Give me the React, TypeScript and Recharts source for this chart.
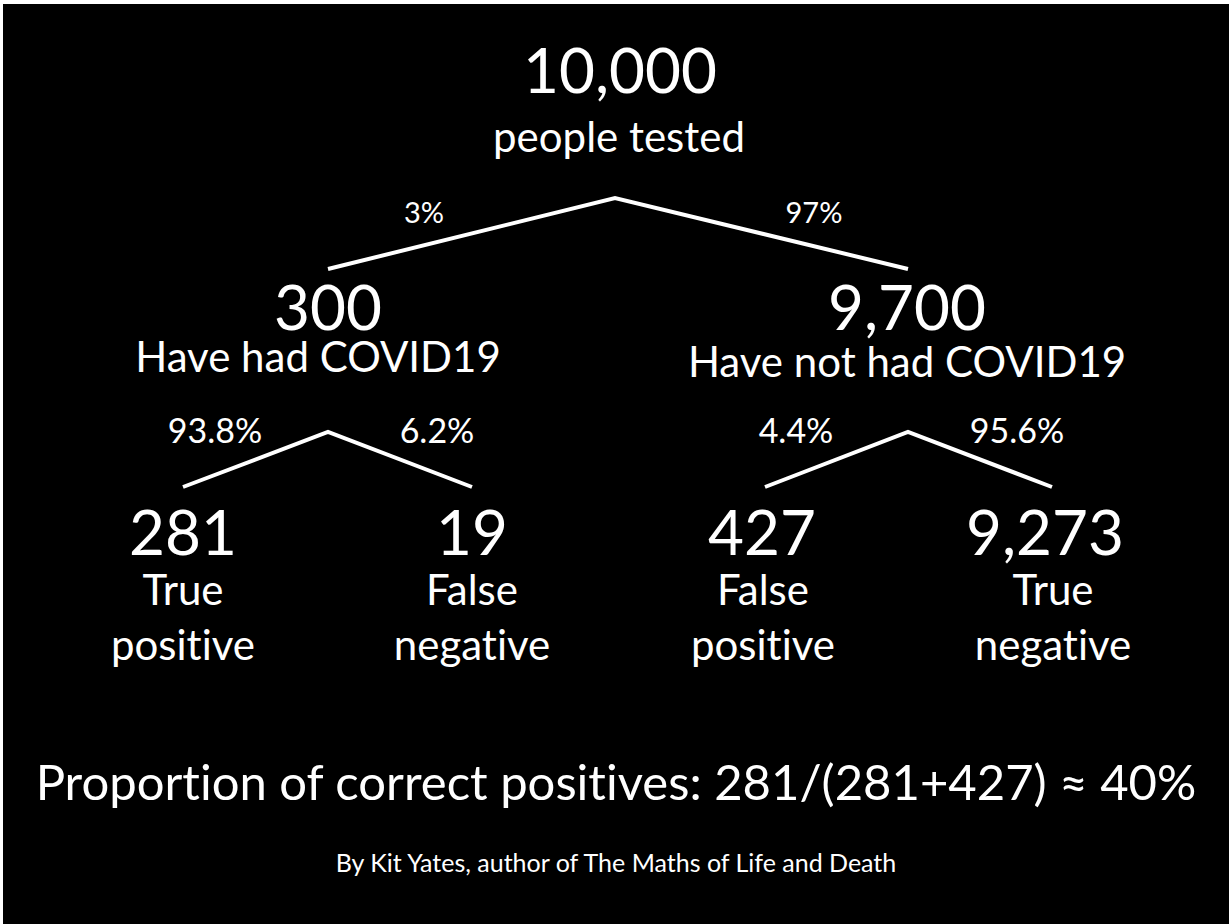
import React from "react";
import { ScatterChart, Scatter, XAxis, YAxis } from "recharts";

// tree nodes: people count at each node
const nodeValues = [10000, 300, 9700, 281, 19, 427, 9273];
const nodeNames = [
  ["people tested"],
  ["Have had COVID19"],
  ["Have not had COVID19"],
  ["True", "positive"],
  ["False", "negative"],
  ["False", "positive"],
  ["True", "negative"],
];
const nodeX = [620, 328, 907, 183, 472, 762, 1045];
const nodeY = [93, 330, 330, 555, 555, 555, 555];
const nameX = [619, 318, 907, 183, 472, 763, 1053];
const nameY = [152, 372, 377, 605, 605, 605, 605];

// branch percentages (first two from the root, rest from the second level)
const branchPct = [3, 97, 93.8, 6.2, 4.4, 95.6];
const pctX = [424, 814, 215, 437, 796, 1017];
const pctY = [223, 223, 443, 443, 443, 443];

// forks: left child end, parent apex, right child end
const forkX = [[328, 615, 908], [183, 328, 472], [765, 908, 1052]];
const forkY = [[269, 198, 269], [487, 432, 487], [487, 432, 487]];

const captions = [
  "Proportion of correct positives: 281/(281+427) \u2248 40%",
  "By Kit Yates, author of The Maths of Life and Death",
];
const captionX = [616, 616];
const captionY = [800, 872];

const FONT = "Lato, 'Open Sans', sans-serif";
const INK = "#ffffff";
const noLig = { fontVariantLigatures: "none" as const };

const nodeData = nodeValues.map((v, i) => ({ x: nodeX[i], y: nodeY[i], value: v }));
const nameData = nodeNames.map((n, i) => ({ x: nameX[i], y: nameY[i], lines: n }));
const pctData = branchPct.map((p, i) => ({ x: pctX[i], y: pctY[i], pct: p, level: i < 2 ? 0 : 1 }));
const forkData = forkX.map((xs, f) => xs.map((x, j) => ({ x, y: forkY[f][j] })));
const captionData = captions.map((t, i) => ({ x: captionX[i], y: captionY[i], text: t, main: i === 0 }));

const Blank = () => <g />;

const NodeShape = (p: any) => (
  <text x={p.cx} y={p.cy} textAnchor="middle" fontSize={62} fill={INK} fontFamily={FONT}>
    {p.payload.value.toLocaleString("en-US")}
  </text>
);

const NameShape = (p: any) => (
  <text x={p.cx} y={p.cy} textAnchor="middle" fontSize={42} fill={INK} fontFamily={FONT} style={noLig}>
    {p.payload.lines.map((l: string, i: number) => (
      <tspan key={i} x={p.cx} dy={i === 0 ? 0 : 55}>{l}</tspan>
    ))}
  </text>
);

const PctShape = (p: any) => (
  <text x={p.cx} y={p.cy} textAnchor="middle" fontSize={p.payload.level === 0 ? 29 : 34} fill={INK} fontFamily={FONT}>
    {`${p.payload.pct}%`}
  </text>
);

const CaptionShape = (p: any) => (
  <text
    x={p.cx}
    y={p.cy}
    textAnchor="middle"
    fontSize={p.payload.main ? 49 : 25}
    fill={INK}
    fontFamily={FONT}
    style={noLig}
  >
    {p.payload.text}
  </text>
);

export default function App() {
  return (
    <div style={{ position: "absolute", left: 0, top: 0, width: 1229, height: 924, background: "#fff" }}>
      <div style={{ position: "absolute", left: 3, top: 4, background: "#000" }}>
        <ScatterChart width={1226} height={920} margin={{ top: 0, right: 0, bottom: 0, left: 0 }}>
          <XAxis type="number" dataKey="x" domain={[3, 1229]} allowDataOverflow hide />
          <YAxis type="number" dataKey="y" domain={[4, 924]} allowDataOverflow reversed hide />
          {forkData.map((d, i) => (
            <Scatter
              key={`fork${i}`}
              data={d}
              line={{ stroke: INK, strokeWidth: 4 }}
              lineJointType="linear"
              shape={Blank}
              isAnimationActive={false}
            />
          ))}
          <Scatter data={nodeData} shape={NodeShape} isAnimationActive={false} />
          <Scatter data={nameData} shape={NameShape} isAnimationActive={false} />
          <Scatter data={pctData} shape={PctShape} isAnimationActive={false} />
          <Scatter data={captionData} shape={CaptionShape} isAnimationActive={false} />
        </ScatterChart>
      </div>
    </div>
  );
}
